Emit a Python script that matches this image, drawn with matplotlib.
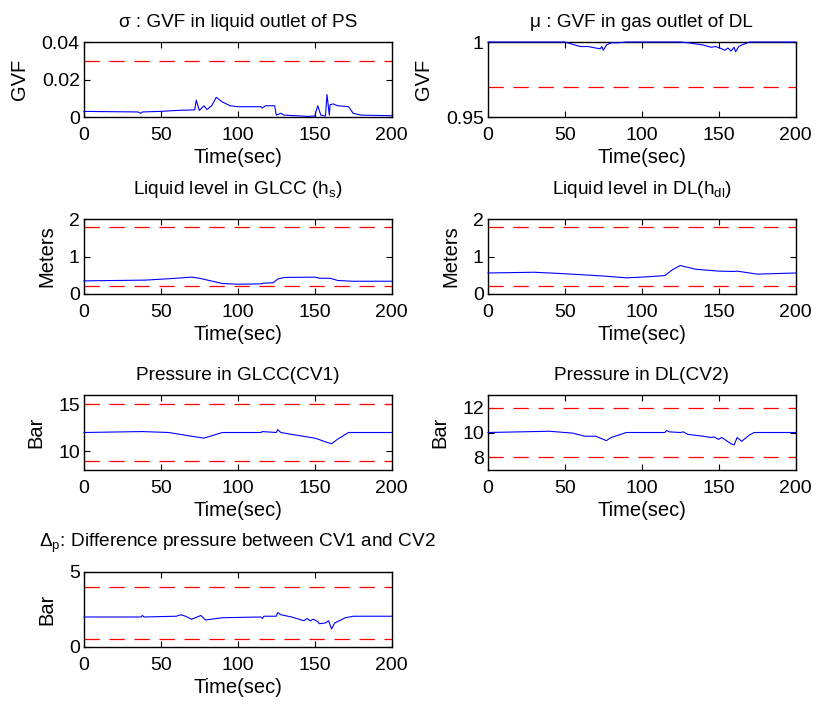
import matplotlib
matplotlib.use('Agg')
import matplotlib.pyplot as plt

plt.rcParams['font.family'] = ['Liberation Sans', 'DejaVu Sans']
plt.rcParams['mathtext.fontset'] = 'custom'
plt.rcParams['mathtext.rm'] = 'Liberation Sans'
plt.rcParams['mathtext.it'] = 'Liberation Sans:italic'
plt.rcParams['lines.scale_dashes'] = False

# ---- data (time in sec) ----
t_sigma = [0, 10, 35, 37, 38, 50, 60, 72, 73, 75, 78, 80, 83, 86, 90, 95, 100, 115, 116, 118,
           124, 125, 128, 130, 140, 145, 150, 152, 154, 157, 158, 159.5, 160, 162, 165, 172, 175,
           180, 200]
v_sigma = [0.003, 0.0029, 0.0027, 0.002, 0.0027, 0.003, 0.0035, 0.0038, 0.009, 0.0035, 0.006,
           0.004, 0.006, 0.0105, 0.008, 0.006, 0.0055, 0.0055, 0.0048, 0.006, 0.006, 0.001,
           0.002, 0.001, 0.0006, 0.0003, 0.0005, 0.006, 0.001, 0.0005, 0.012, 0.001, 0.0065,
           0.007, 0.006, 0.0055, 0.002, 0.001, 0.0007]
sigma_lim = [0.03]

t_mu = [0, 50, 55, 60, 65, 70, 73, 74, 75, 77, 80, 85, 90, 125, 130, 140, 145, 148, 152, 154,
        156, 158, 160, 161, 163, 165, 170, 200]
v_mu = [1.0, 1.0, 0.9985, 0.997, 0.997, 0.996, 0.9955, 0.997, 0.9945, 0.998, 0.9995, 0.9995,
        1.0, 1.0, 0.9995, 0.998, 0.9965, 0.997, 0.9955, 0.9945, 0.996, 0.994, 0.9965, 0.9935,
        0.997, 0.998, 1.0, 1.0]
mu_lim = [0.97]

t_hs = [0, 40, 60, 70, 75, 90, 100, 115, 117, 123, 126, 130, 150, 153, 160, 165, 175, 200]
v_hs = [0.35, 0.37, 0.42, 0.45, 0.42, 0.28, 0.26, 0.27, 0.29, 0.30, 0.40, 0.44, 0.45, 0.42,
        0.42, 0.36, 0.34, 0.34]
hs_lim = [1.8, 0.2]

t_hdl = [0, 30, 50, 75, 90, 100, 115, 120, 125, 135, 150, 160, 162, 175, 200]
v_hdl = [0.56, 0.58, 0.54, 0.48, 0.43, 0.45, 0.49, 0.65, 0.76, 0.66, 0.61, 0.60, 0.61, 0.53, 0.56]
hdl_lim = [1.8, 0.2]

t_p1 = [0, 38, 55, 70, 78, 90, 115, 116, 125, 126, 128, 135, 150, 152, 157, 161, 165, 172, 200]
v_p1 = [12.0, 12.1, 12.0, 11.6, 11.4, 12.0, 12.0, 12.1, 12.0, 12.3, 12.0, 11.8, 11.4, 11.3,
        11.0, 10.8, 11.3, 12.0, 12.0]
p1_lim = [15, 9]

t_p2 = [0, 40, 55, 63, 70, 77, 80, 90, 115, 116, 118, 125, 127, 130, 140, 145, 147, 150, 152,
        155, 158, 160, 162, 165, 170, 173, 200]
v_p2 = [10.0, 10.1, 9.95, 9.7, 9.7, 9.35, 9.6, 10.0, 10.0, 10.15, 10.05, 10.0, 10.05, 9.85,
        9.7, 9.6, 9.65, 9.45, 9.6, 9.35, 9.1, 9.0, 9.6, 9.3, 9.8, 10.0, 10.0]
p2_lim = [12, 8]

t_dp = [0, 37, 38, 39, 60, 63, 66, 70, 76, 79, 90, 115, 116, 117, 125, 126, 128, 135, 143,
        145, 147, 149, 152, 153, 157, 159, 161, 163, 170, 175, 200]
v_dp = [2.0, 2.0, 2.1, 2.0, 2.05, 2.15, 2.05, 1.85, 2.1, 1.8, 1.95, 2.0, 1.9, 2.05, 2.05, 2.3,
        2.15, 2.0, 1.75, 1.9, 1.75, 1.85, 1.7, 1.55, 1.6, 1.75, 1.2, 1.6, 1.95, 2.05, 2.05]
dp_lim = [4, 0.5]

panels = [
    (t_sigma, v_sigma, sigma_lim, u'\u03c3 : GVF in liquid outlet of PS', 'GVF',
     (0, 0.04), [0, 0.02, 0.04], ['0', '0.02', '0.04']),
    (t_mu, v_mu, mu_lim, u'\u03bc : GVF in gas outlet of DL', 'GVF',
     (0.95, 1.0), [0.95, 1.0], ['0.95', '1']),
    (t_hs, v_hs, hs_lim, r'Liquid level in GLCC (h$_{\rm s}$)', 'Meters',
     (0, 2), [0, 1, 2], ['0', '1', '2']),
    (t_hdl, v_hdl, hdl_lim, r'Liquid level in DL(h$_{\rm dl}$)', 'Meters',
     (0, 2), [0, 1, 2], ['0', '1', '2']),
    (t_p1, v_p1, p1_lim, 'Pressure in GLCC(CV1)', 'Bar',
     (8, 16), [10, 15], ['10', '15']),
    (t_p2, v_p2, p2_lim, 'Pressure in DL(CV2)', 'Bar',
     (7, 13), [8, 10, 12], ['8', '10', '12']),
    (t_dp, v_dp, dp_lim, u'\u0394$_{\\rm p}$: Difference pressure between CV1 and CV2', 'Bar',
     (0, 5), [0, 5], ['0', '5']),
]

# axes rectangles in figure fraction
lefts = [0.1028, 0.5973]
width = 0.3765
bottoms = [0.8338, 0.5824, 0.3324, 0.081]
height = 0.1065
pads = [11, 11, 18, 18, 11, 11, 18]

fig = plt.figure(figsize=(8.17, 7.04), dpi=100)
for i, (t, v, lims, title, ylab, ylim, yt, ytl) in enumerate(panels):
    ax = fig.add_axes([lefts[i % 2], bottoms[i // 2], width, height])
    ax.plot(t, v, color='#0000ff', lw=0.8, clip_on=False, zorder=3)
    for lv in lims:
        ax.axhline(lv, color='#ff0000', lw=0.9, dashes=(11, 7))
    ax.set_xlim(0, 200)
    ax.set_ylim(*ylim)
    ax.set_xticks([0, 50, 100, 150, 200])
    ax.set_yticks(yt)
    ax.set_yticklabels(ytl)
    ax.tick_params(direction='in', top=True, right=True, length=4, labelsize=14)
    ax.tick_params(axis='x', pad=7)
    ax.tick_params(axis='y', pad=3)
    ax.set_title(title, fontsize=13.7, pad=pads[i])
    ax.set_xlabel('Time(sec)', fontsize=14.5, labelpad=3)
    ax.set_ylabel(ylab, fontsize=14.5, labelpad=9)
    for s in ax.spines.values():
        s.set_linewidth(1.0)

fig.savefig('out.png', dpi=100)
